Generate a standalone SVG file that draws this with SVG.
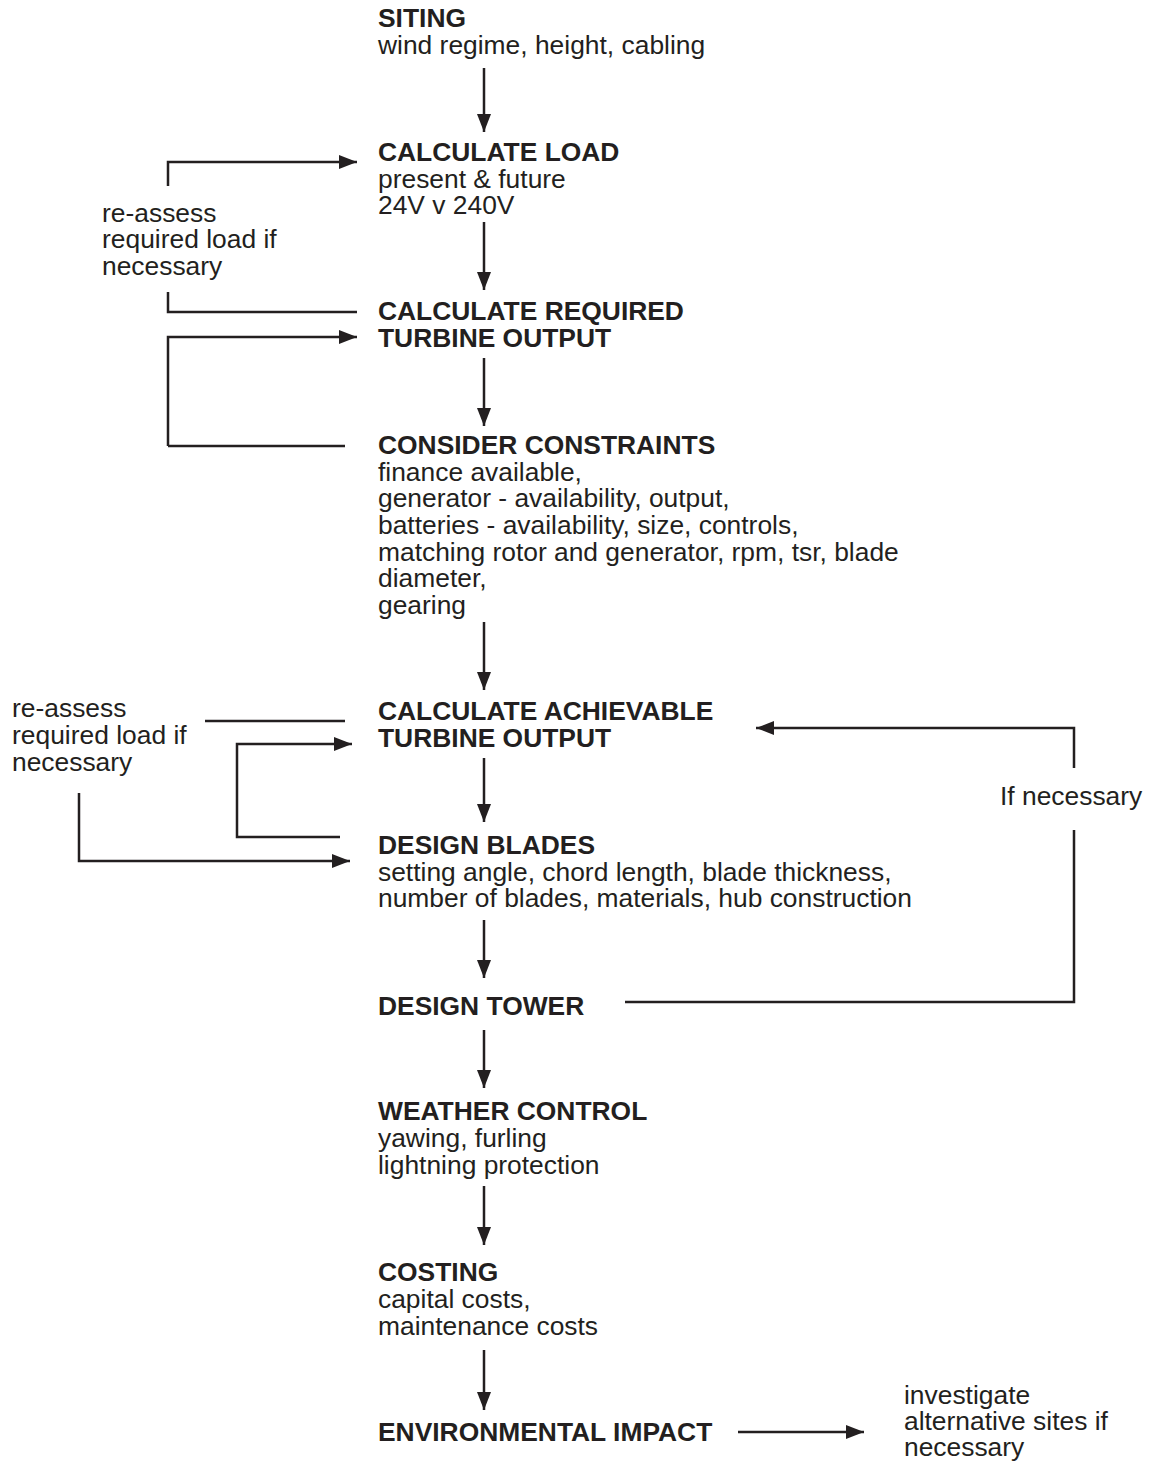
<svg xmlns="http://www.w3.org/2000/svg" width="1149" height="1462" viewBox="0 0 1149 1462">
<style>
text{font-family:"Liberation Sans",Arial,sans-serif;font-size:26.4px;fill:#231f20}
.b{font-weight:bold}
.c{fill:none;stroke:#231f20;stroke-width:2.5}
</style>
<defs>
<marker id="ah" markerUnits="userSpaceOnUse" markerWidth="18" markerHeight="14" refX="18" refY="7" orient="auto">
<path d="M0,0 L18,7 L0,14 z" fill="#231f20"/>
</marker>
</defs>
<rect width="1149" height="1462" fill="#fff"/>
<g id="connectors">
<path class="c" marker-end="url(#ah)" d="M484,68 V132"/>
<path class="c" marker-end="url(#ah)" d="M484,222 V290"/>
<path class="c" marker-end="url(#ah)" d="M484,358 V426"/>
<path class="c" marker-end="url(#ah)" d="M484,622 V690"/>
<path class="c" marker-end="url(#ah)" d="M484,758 V822"/>
<path class="c" marker-end="url(#ah)" d="M484,920 V978"/>
<path class="c" marker-end="url(#ah)" d="M484,1030 V1088"/>
<path class="c" marker-end="url(#ah)" d="M484,1186 V1245"/>
<path class="c" marker-end="url(#ah)" d="M484,1350 V1410"/>
<path class="c" marker-end="url(#ah)" d="M168,186 V162 H357"/>
<path class="c" d="M168,292 V312 H357"/>
<path class="c" marker-end="url(#ah)" d="M168,446 H345 M168,446 V337 H357"/>
<path class="c" d="M205,721 H345"/>
<path class="c" marker-end="url(#ah)" d="M340,837 H237 V744 H352"/>
<path class="c" marker-end="url(#ah)" d="M79,793 V861 H350"/>
<path class="c" marker-end="url(#ah)" d="M1074,768 V728 H756"/>
<path class="c" d="M1074,830 V1002 H625"/>
<path class="c" marker-end="url(#ah)" d="M738,1432 H864"/>
</g>
<g id="siting"><text class="b" x="378" y="27">SITING</text><text x="378" y="54">wind regime, height, cabling</text></g>
<g id="calc-load"><text class="b" x="378" y="161">CALCULATE LOAD</text><text x="378" y="188">present &amp; future</text><text x="378" y="214">24V v 240V</text></g>
<g id="reassess-1"><text x="102" y="222">re-assess</text><text x="102" y="248">required load if</text><text x="102" y="275">necessary</text></g>
<g id="calc-required"><text class="b" x="378" y="320">CALCULATE REQUIRED</text><text class="b" x="378" y="347">TURBINE OUTPUT</text></g>
<g id="constraints"><text class="b" x="378" y="454">CONSIDER CONSTRAINTS</text>
<text x="378" y="481">finance available,</text>
<text x="378" y="507">generator - availability, output,</text>
<text x="378" y="534">batteries - availability, size, controls,</text>
<text x="378" y="561">matching rotor and generator, rpm, tsr, blade</text>
<text x="378" y="587">diameter,</text>
<text x="378" y="614">gearing</text></g>
<g id="calc-achievable"><text class="b" x="378" y="720">CALCULATE ACHIEVABLE</text><text class="b" x="378" y="747">TURBINE OUTPUT</text></g>
<g id="reassess-2"><text x="12" y="717">re-assess</text><text x="12" y="744">required load if</text><text x="12" y="771">necessary</text></g>
<g id="if-necessary"><text x="1000" y="805">If necessary</text></g>
<g id="design-blades"><text class="b" x="378" y="854">DESIGN BLADES</text><text x="378" y="881">setting angle, chord length, blade thickness,</text><text x="378" y="907">number of blades, materials, hub construction</text></g>
<g id="design-tower"><text class="b" x="378" y="1015">DESIGN TOWER</text></g>
<g id="weather"><text class="b" x="378" y="1120">WEATHER CONTROL</text><text x="378" y="1147">yawing, furling</text><text x="378" y="1174">lightning protection</text></g>
<g id="costing"><text class="b" x="378" y="1281">COSTING</text><text x="378" y="1308">capital costs,</text><text x="378" y="1335">maintenance costs</text></g>
<g id="environmental"><text class="b" x="378" y="1441">ENVIRONMENTAL IMPACT</text></g>
<g id="investigate"><text x="904" y="1404">investigate</text><text x="904" y="1430">alternative sites if</text><text x="904" y="1456">necessary</text></g>
</svg>
